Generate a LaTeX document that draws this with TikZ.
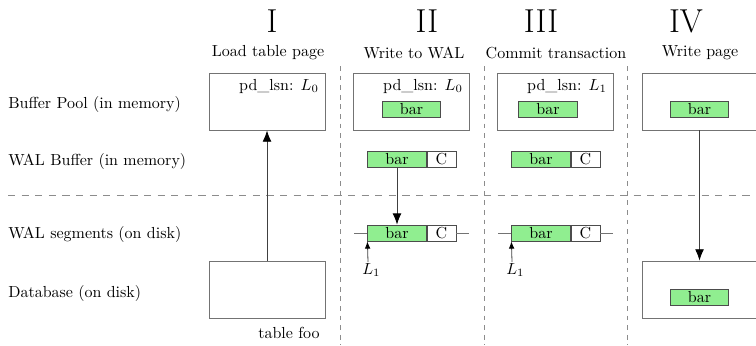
\documentclass[tikz,border=0pt]{standalone}
\usetikzlibrary{arrows.meta,calc}
\definecolor{barfill}{RGB}{144,238,144}
\begin{document}
\begin{tikzpicture}[x=0.625pt,y=-0.625pt,
  pagebox/.style={draw=black!55, line width=0.6pt, minimum width=72.5pt, minimum height=35.6pt, inner sep=0},
  barbox/.style={draw=black!70, fill=barfill, line width=0.5pt, minimum width=36.5pt, minimum height=10pt, inner sep=0},
  cbox/.style={draw=black!70, fill=white, line width=0.5pt, minimum width=18.1pt, minimum height=10pt, inner sep=0, anchor=west},
  hsep/.style={draw=black!45, line width=0.6pt, dash pattern=on 4.5pt off 4pt},
  vsep/.style={draw=black!45, line width=0.6pt, dash pattern=on 3pt off 3pt},
  conn/.style={draw=black!75, line width=0.5pt, -{Latex[length=7pt,width=5.5pt,color=black]}},
  lconn/.style={draw=black!75, line width=0.5pt, -{Latex[length=4.5pt,width=3.5pt,color=black]}},
  rowlab/.style={anchor=west, inner sep=0},
  roman/.style={font=\huge, inner sep=0},
  steplab/.style={inner sep=0},
  lsn/.style={anchor=base east, inner sep=0},
  segline/.style={draw=black!55, line width=0.5pt}
]
\useasboundingbox (0,0) rectangle (756,345);

% separators
\coordinate (h1) at (8,195);
\coordinate (h2) at (756,195);
\draw[hsep] (h1) -- (h2);
\coordinate (v1a) at (340,66); \coordinate (v1b) at (340,345);
\coordinate (v2a) at (484,66); \coordinate (v2b) at (484,345);
\coordinate (v3a) at (627,66); \coordinate (v3b) at (627,345);
\draw[vsep] (v1a) -- (v1b);
\draw[vsep] (v2a) -- (v2b);
\draw[vsep] (v3a) -- (v3b);

% headers
\node[roman] (r1) at (272,21) {I};
\node[roman] (r2) at (427,21) {II};
\node[roman] (r3) at (541,21) {III};
\node[roman] (r4) at (686,21) {IV};
\node[steplab] (t1) at (268,53) {Load table page};
\node[steplab] (t2) at (414,53) {Write to WAL};
\node[steplab] (t3) at (556,53) {Commit transaction};
\node[steplab] (t4) at (700,53) {Write page};

% row labels
\node[rowlab] (rl1) at (8,104) {Buffer Pool (in memory)};
\node[rowlab] (rl2) at (8,161) {WAL Buffer (in memory)};
\node[rowlab] (rl3) at (8,234) {WAL segments (on disk)};
\node[rowlab] (rl4) at (8,293) {Database (on disk)};

% Column I
\node[pagebox] (bufI) at (267,101.5) {};
\node[lsn] (lsnI) at (319,90) {pd\_lsn: $L_0$};
\node[pagebox] (dbI) at (267,289.5) {};
\node[lsn] (fooI) at (320,338) {table foo};
\draw[conn] (dbI.north) -- (bufI.south);

% Column II
\node[pagebox] (bufII) at (411,101.5) {};
\node[lsn] (lsnII) at (463,90) {pd\_lsn: $L_0$};
\node[barbox] (barII) at (411.5,109) {bar};
\node[barbox] (wbII) at (397,159.5) {bar};
\node[cbox] (wcII) at (wbII.east) {C};
\coordinate (sIIa) at (354,233);
\coordinate (sIIb) at (469,233);
\node[barbox] (wsII) at (397,233) {bar};
\node[cbox] (wscII) at (wsII.east) {C};
\draw[segline] (sIIa) -- (wsII.west);
\draw[segline] (wscII.east) -- (sIIb);
\draw[conn] (wbII.south) -- (wsII.north);
\coordinate (lIIs) at (368,262);
\node[anchor=north west, inner sep=0] (lII) at (362,263) {$L_1$};
\draw[lconn] (lIIs) -- (wsII.south west);

% Column III
\node[pagebox] (bufIII) at (555,101.5) {};
\node[lsn] (lsnIII) at (607,90) {pd\_lsn: $L_1$};
\node[barbox] (barIII) at (548,109) {bar};
\node[barbox] (wbIII) at (541,159.5) {bar};
\node[cbox] (wcIII) at (wbIII.east) {C};
\coordinate (sIIIa) at (498,233);
\coordinate (sIIIb) at (613,233);
\node[barbox] (wsIII) at (541,233) {bar};
\node[cbox] (wscIII) at (wsIII.east) {C};
\draw[segline] (sIIIa) -- (wsIII.west);
\draw[segline] (wscIII.east) -- (sIIIb);
\coordinate (lIIIs) at (512,262);
\node[anchor=north west, inner sep=0] (lIII) at (506,263) {$L_1$};
\draw[lconn] (lIIIs) -- (wsIII.south west);

% Column IV
\node[pagebox] (bufIV) at (700,101.5) {};
\node[barbox] (barIV) at (699.5,109) {bar};
\node[pagebox] (dbIV) at (700,289.5) {};
\node[barbox] (barIV2) at (699.5,297) {bar};
\draw[conn] (barIV.south |- bufIV.south) -- (barIV.south |- dbIV.north);
\end{tikzpicture}
\end{document}
